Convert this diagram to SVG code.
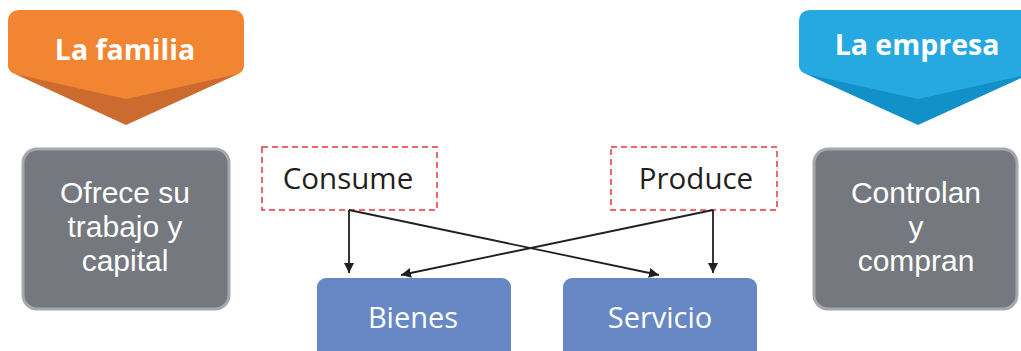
<svg xmlns="http://www.w3.org/2000/svg" width="1021" height="351" viewBox="0 0 1021 351">
<defs>
<marker id="ah" viewBox="0 0 10 10" refX="10" refY="5" markerWidth="10" markerHeight="10" markerUnits="userSpaceOnUse" orient="auto">
<path d="M0,0 L10,5 L0,10 z" fill="#231F20"/>
</marker>
<style>
.ttl{font-family:"Open Sans","Noto Sans",sans-serif;font-weight:bold;font-size:28.5px;fill:#fff;text-anchor:middle}
.gbox{fill:#75787E;stroke:#A5A8AC;stroke-width:3}
.gtxt{font-family:"Liberation Sans",Arial,sans-serif;font-size:30px;fill:#fff;text-anchor:middle}
.dbox{fill:#fff;stroke:#E8373D;stroke-width:1.5;stroke-dasharray:6 4}
.dtxt{font-family:"Open Sans","Noto Sans",sans-serif;font-size:29.5px;fill:#231F20;text-anchor:middle}
.bbox{fill:#6788C5}
.btxt{font-family:"Open Sans","Noto Sans",sans-serif;font-size:29px;fill:#fff;text-anchor:middle}
.conn{stroke:#231F20;stroke-width:1.8;fill:none;marker-end:url(#ah)}
</style>
</defs>
<rect width="1021" height="351" fill="#fff"/>

<g id="familia">
<path d="M15,74 L126,125 L238,74 z" fill="#CB6B30"/>
<path d="M20,10 H232 Q244,10 244,22 V66 Q244,71 238,74 L126,99 L15,74 Q8,71 8,66 V22 Q8,10 20,10 z" fill="#F28532"/>
<text class="ttl" x="125" y="60">La familia</text>
</g>

<g id="empresa">
<path d="M806,74 L918,125 L1030,74 z" fill="#1290C8"/>
<path d="M811,10 H1024 Q1036,10 1036,22 V66 Q1036,71 1030,74 L918,99 L806,74 Q799,71 799,66 V22 Q799,10 811,10 z" fill="#25A9E0"/>
<text class="ttl" x="917" y="55">La empresa</text>
</g>

<g id="ofrece">
<rect class="gbox" x="23" y="149" width="206" height="160" rx="14"/>
<text class="gtxt" x="125" y="203">Ofrece su</text>
<text class="gtxt" x="125" y="237">trabajo y</text>
<text class="gtxt" x="125" y="271">capital</text>
</g>

<g id="controlan">
<rect class="gbox" x="814" y="149" width="203" height="160" rx="14"/>
<text class="gtxt" x="916" y="203">Controlan</text>
<text class="gtxt" x="916" y="237">y</text>
<text class="gtxt" x="916" y="271">compran</text>
</g>

<g id="consume">
<rect class="dbox" x="262" y="147" width="175" height="63"/>
<text class="dtxt" x="348" y="189">Consume</text>
</g>

<g id="produce">
<rect class="dbox" x="611" y="147" width="166" height="63"/>
<text class="dtxt" x="696" y="189">Produce</text>
</g>

<g id="bienes">
<rect class="bbox" x="317" y="278" width="194" height="90" rx="9"/>
<text class="btxt" x="413" y="328">Bienes</text>
</g>

<g id="servicio">
<rect class="bbox" x="563" y="278" width="194" height="90" rx="9"/>
<text class="btxt" x="660" y="328">Servicio</text>
</g>

<g id="connectors">
<line class="conn" x1="349" y1="210" x2="349" y2="273"/>
<line class="conn" x1="349" y1="210" x2="659" y2="275"/>
<line class="conn" x1="713" y1="210" x2="713" y2="273"/>
<line class="conn" x1="713" y1="210" x2="401" y2="275"/>
</g>
</svg>
